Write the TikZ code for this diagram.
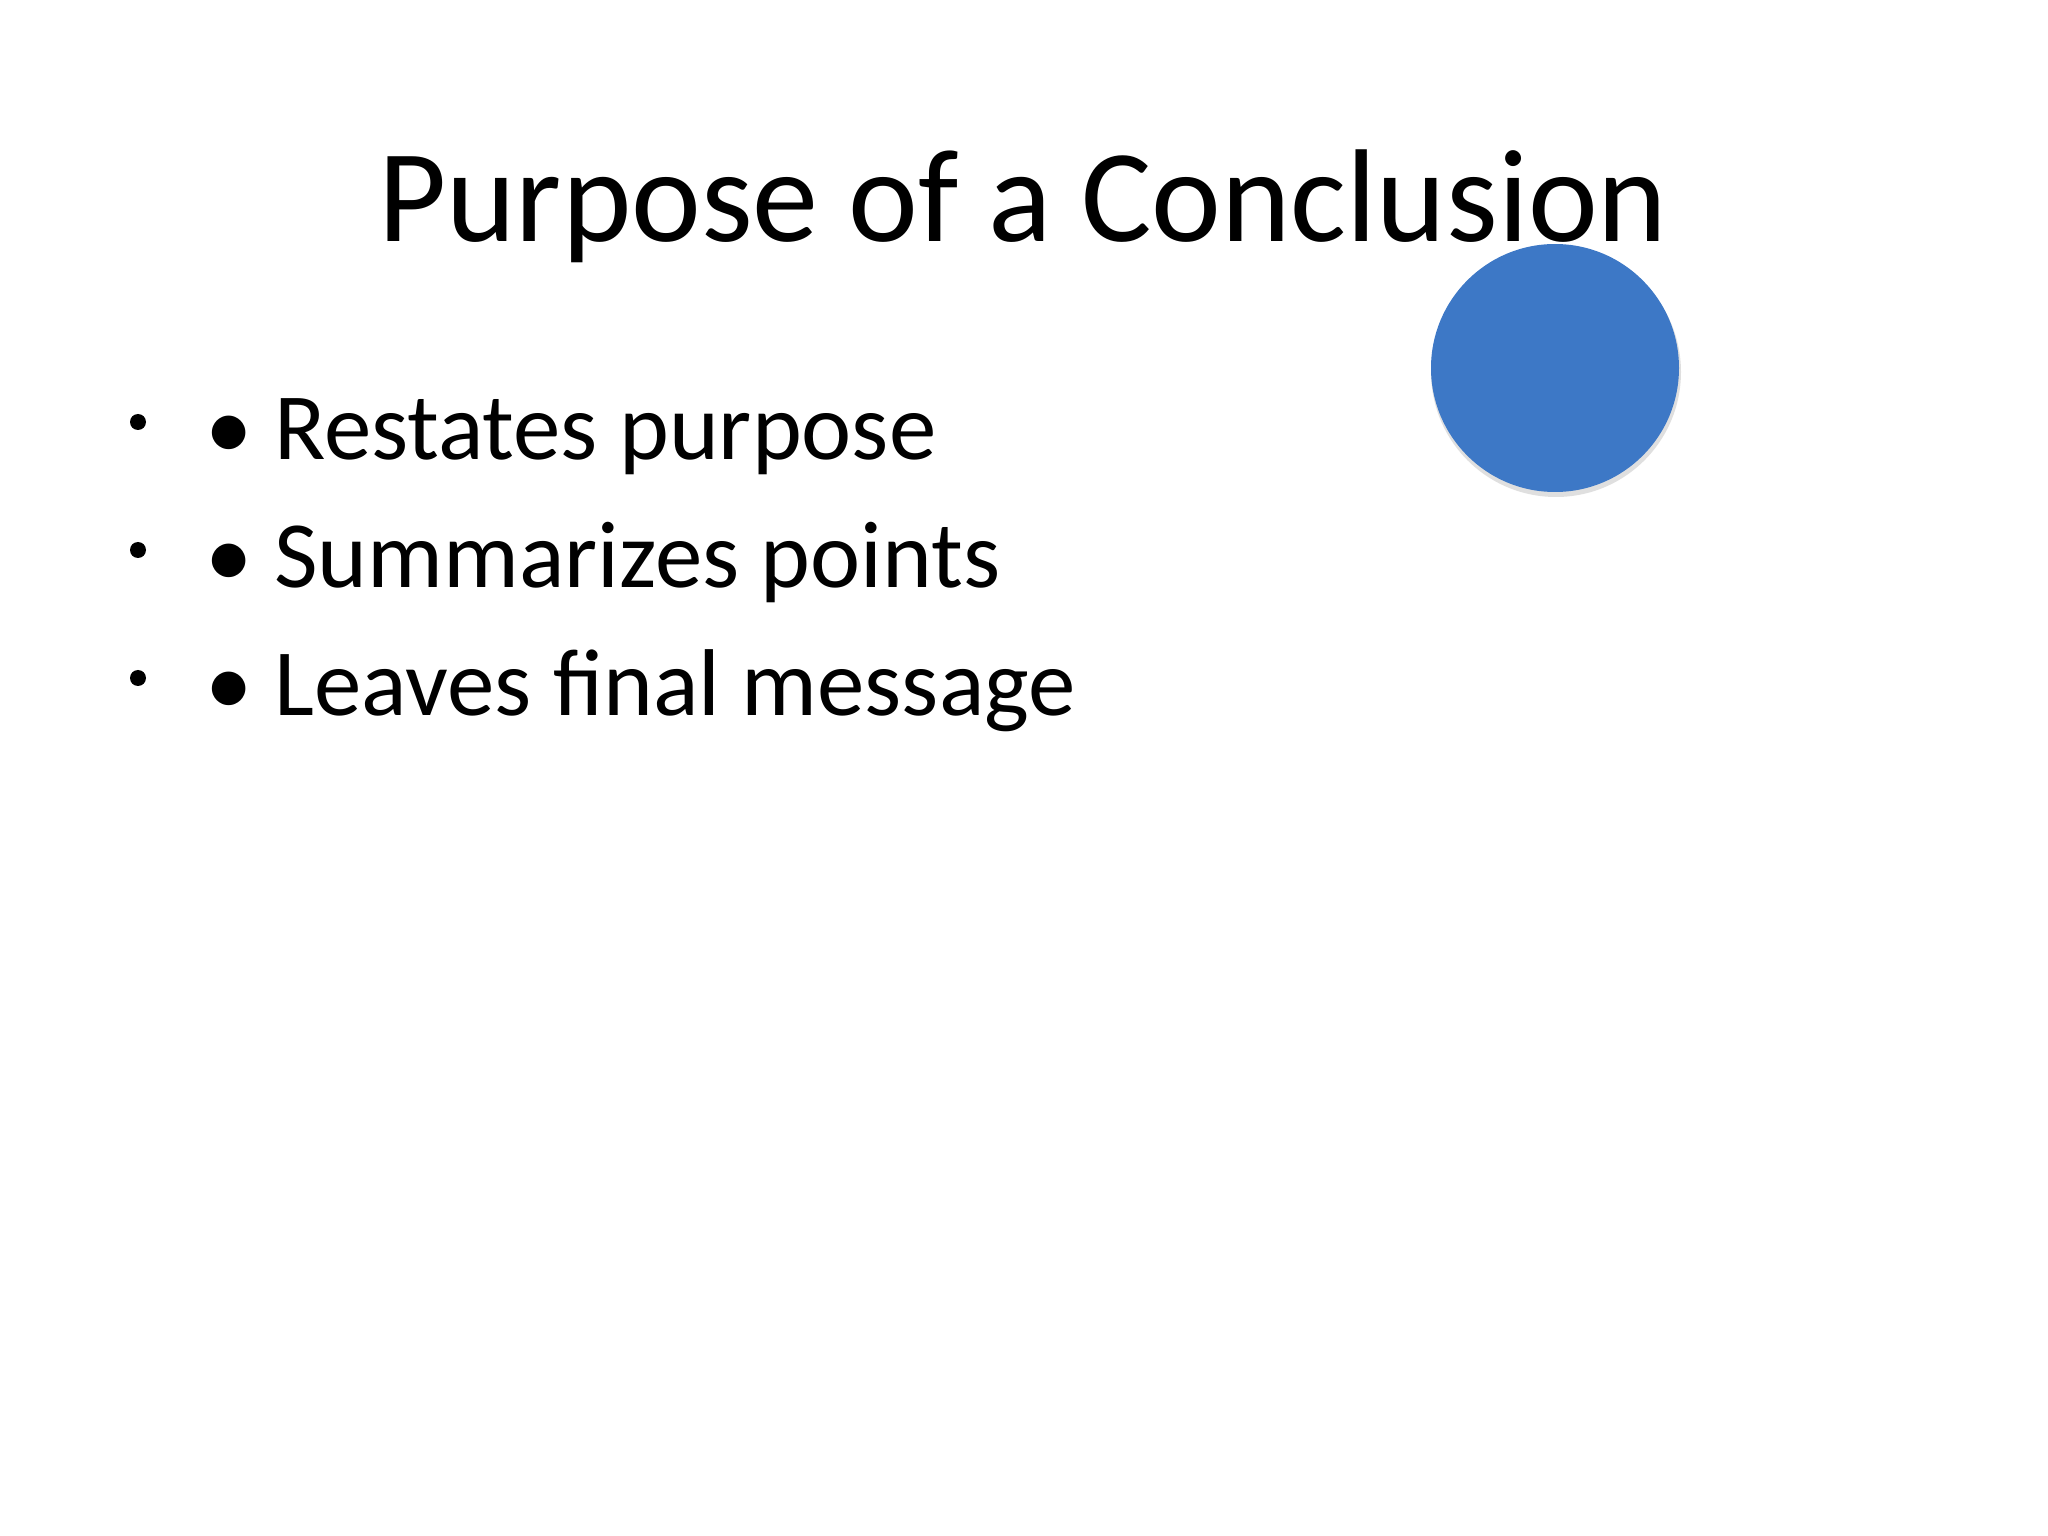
\documentclass[tikz,border=0pt]{standalone}
\usepackage{fontspec}
\setmainfont{Carlito}
\begin{document}
\begin{tikzpicture}[x=1cm,y=-1cm,
  item/.style={anchor=base west,inner sep=0pt,font=\fontsize{27}{32}\selectfont},
  dot/.style={circle,fill=black,inner sep=0pt,minimum size=0.16cm}]
\useasboundingbox (0,0) rectangle (20.48,15.36);
\node[anchor=base,inner sep=0pt,font=\fontsize{37.6}{44}\selectfont] (title) at (10.23,2.42) {Purpose of a Conclusion};
\fill[black!25,opacity=0.5] (15.56,3.72) circle (1.25);
\node[circle,fill={rgb,255:red,61;green,120;blue,198},minimum size=2.48cm,inner sep=0pt] (c) at (15.55,3.68) {};
\foreach \y/\t [count=\i] in {4.60/Restates purpose,5.88/Summarizes points,7.16/Leaves final message}{
  \node[dot] (b\i) at (1.38,\y-0.38) {};
  \node[item] (t\i) at (2.05,\y) {• \t};
}
\end{tikzpicture}
\end{document}
